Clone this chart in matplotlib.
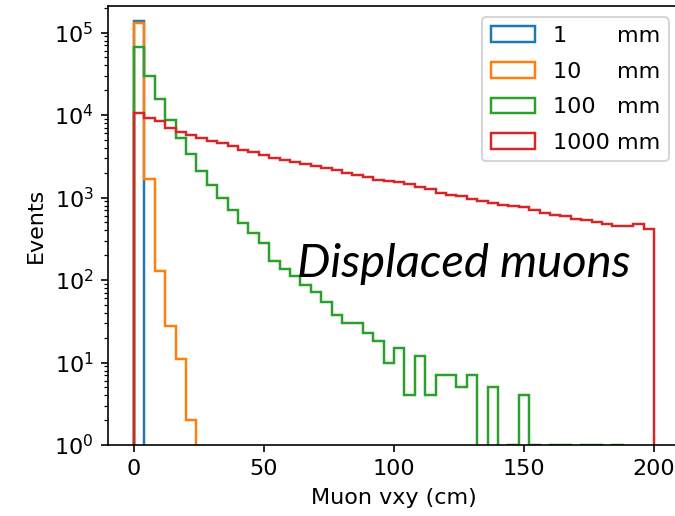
import numpy as np
import matplotlib
matplotlib.use('Agg')
import matplotlib.pyplot as plt

EDGES = np.arange(0, 201, 4)
CENTERS = EDGES[:-1] + 2

COUNTS_1MM = [
    137000, 0, 0, 0, 0, 0, 0, 0, 0, 0,
    0, 0, 0, 0, 0, 0, 0, 0, 0, 0,
    0, 0, 0, 0, 0, 0, 0, 0, 0, 0,
    0, 0, 0, 0, 0, 0, 0, 0, 0, 0,
    0, 0, 0, 0, 0, 0, 0, 0, 0, 0,
]
COUNTS_10MM = [
    132000, 1680, 130, 28, 11, 2, 0, 0, 0, 0,
    0, 0, 0, 0, 0, 0, 0, 0, 0, 0,
    0, 0, 0, 0, 0, 0, 0, 0, 0, 0,
    0, 0, 0, 0, 0, 0, 0, 0, 0, 0,
    0, 0, 0, 0, 0, 0, 0, 0, 0, 0,
]
COUNTS_100MM = [
    66000, 29500, 15800, 8600, 5300, 3370, 2110, 1400, 980, 710,
    490, 370, 280, 168, 136, 112, 87, 71, 54, 38,
    30, 30, 23, 18, 10, 15, 4, 12, 4, 7,
    7, 5, 7, 0, 5, 0, 1, 4, 1, 0,
    1, 1, 0, 1, 1, 0, 1, 0, 0, 0,
]
COUNTS_1000MM = [
    10600, 9220, 8390, 7030, 6240, 5780, 5270, 4820, 4560, 4170,
    3800, 3600, 3310, 3020, 2880, 2720, 2540, 2400, 2300, 2140,
    1970, 1890, 1770, 1640, 1570, 1560, 1470, 1360, 1270, 1150,
    1080, 1030, 960, 920, 860, 820, 795, 760, 710, 650,
    620, 590, 553, 527, 499, 477, 455, 450, 481, 415,
]
LABELS = ['1       mm', '10     mm', '100   mm', '1000 mm']

plt.rcParams['font.size'] = 10.8

DPI = 148
fig = plt.figure(figsize=(675 / DPI, 516 / DPI), dpi=DPI)
ax = fig.add_axes([108 / 675, 71 / 516, 572 / 675, 439 / 516])

for counts, label in zip([COUNTS_1MM, COUNTS_10MM, COUNTS_100MM, COUNTS_1000MM], LABELS):
    ax.hist(CENTERS, bins=EDGES, weights=counts, histtype='step', lw=1.2, label=label)

ax.set_yscale('log')
ax.set_xlim(-10, 210)
ax.set_ylim(1, 2.1e5)
ax.set_xticks([0, 50, 100, 150, 200])
ax.set_xlabel('Muon vxy (cm)')
ax.set_ylabel('Events')
ax.legend(loc='upper right', labelspacing=0.7)

ax.text(62.7, 110, 'Displaced muons', family='Lato', style='italic',
        fontsize=23, va='baseline', ha='left')

fig.savefig('out.png', dpi=DPI)
